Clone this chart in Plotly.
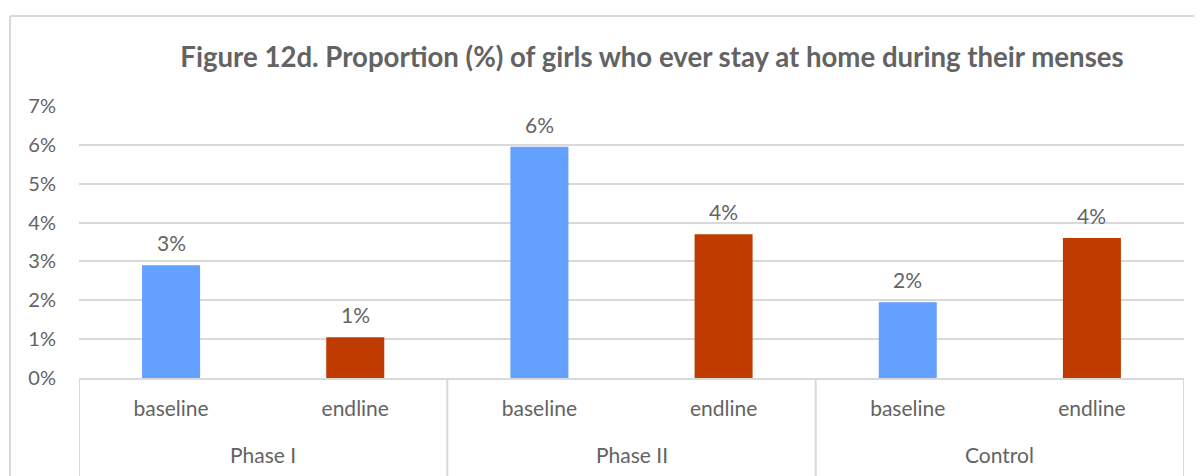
import plotly.graph_objects as go

groups = ["Phase I", "Phase I", "Phase II", "Phase II", "Control", "Control"]
rounds = ["baseline", "endline", "baseline", "endline", "baseline", "endline"]
values = [2.9, 1.05, 5.95, 3.7, 1.95, 3.6]
labels = ["3%", "1%", "6%", "4%", "2%", "4%"]
bar_colors = ["#63A0FF", "#BF3B00", "#63A0FF", "#BF3B00", "#63A0FF", "#BF3B00"]
group_names = ["Phase I", "Phase II", "Control"]
y_ticks = [0, 1, 2, 3, 4, 5, 6, 7]
y_ticklabels = ["0%", "1%", "2%", "3%", "4%", "5%", "6%", "7%"]
title_text = "Figure 12d. Proportion (%) of girls who ever stay at home during their menses"

FONT = "Lato"
GRAY = "#636363"
LINE = "#D9D9D9"

# page body has an 8px offset; figure placed to fill the rest of the window
W, H = 1194, 468
L, R, T, B = 71, 18, 98, 98
PW, PH = W - L - R, H - T - B

cats = [g + " | " + r for g, r in zip(groups, rounds)]

fig = go.Figure()
fig.add_trace(go.Bar(
    x=cats,
    y=values,
    marker=dict(color=bar_colors, line=dict(width=0)),
    hoverinfo="skip",
))

# value labels above bars
for c, v, t in zip(cats, values, labels):
    fig.add_annotation(x=c, y=v, text=t, showarrow=False, yanchor="bottom",
                       yshift=8, font=dict(family=FONT, size=21, color=GRAY))

# group labels centred under each pair
n_per = 2
for i, g in enumerate(group_names):
    fig.add_annotation(x=i * n_per + (n_per - 1) / 2, xref="x",
                       y=-76 / PH, yref="paper", yanchor="middle",
                       text=g, showarrow=False,
                       font=dict(family=FONT, size=21, color=GRAY))

# dividers between groups (and at the ends)
for k in range(len(group_names) + 1):
    xd = k * n_per - 0.5
    fig.add_shape(type="line", xref="x", yref="paper", x0=xd, x1=xd,
                  y0=0, y1=-B / PH - 0.02, line=dict(color=LINE, width=2))

fig.update_layout(
    width=W,
    height=H,
    margin=dict(l=L, r=R, t=T, b=B, autoexpand=False),
    paper_bgcolor="white",
    plot_bgcolor="white",
    bargap=0.685,
    showlegend=False,
    font=dict(family=FONT, size=21, color=GRAY),
    title=dict(
        text="<b>" + title_text + "</b>",
        x=644 / W,
        xanchor="center",
        y=1 - 49 / H,
        yanchor="middle",
        font=dict(family=FONT, size=27.6, color=GRAY),
    ),
    xaxis=dict(
        type="category",
        tickvals=cats,
        ticktext=rounds,
        showline=True,
        linecolor=LINE,
        linewidth=2,
        showgrid=False,
        ticks="",
        ticklabelstandoff=11,
        tickfont=dict(family=FONT, size=21, color=GRAY),
        range=[-0.5, len(cats) - 0.5],
    ),
    yaxis=dict(
        range=[0, 7],
        tickvals=y_ticks,
        ticktext=y_ticklabels,
        showgrid=True,
        gridcolor=LINE,
        gridwidth=2,
        zeroline=False,
        showline=False,
        ticks="",
        ticklabelstandoff=22,
        tickfont=dict(family=FONT, size=20, color=GRAY),
    ),
)

# outer chart border (left and top edges visible in the reference)
fig.add_shape(type="line", xref="paper", yref="paper",
              x0=-69 / PW, x1=1.05, y0=1 + 90 / PH, y1=1 + 90 / PH,
              line=dict(color=LINE, width=2))
fig.add_shape(type="line", xref="paper", yref="paper",
              x0=-69 / PW, x1=-69 / PW, y0=1 + 90 / PH, y1=-0.5,
              line=dict(color=LINE, width=2))

fig.write_html("out.html")
